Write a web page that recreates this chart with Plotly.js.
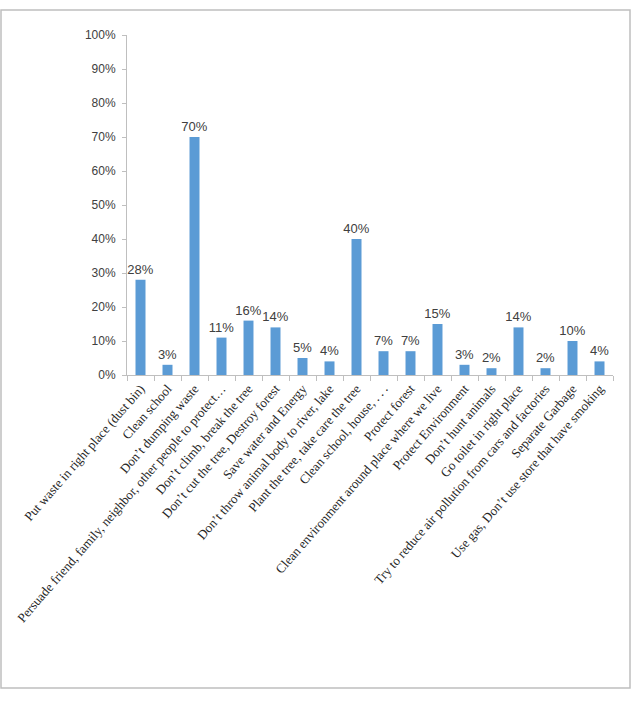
<!DOCTYPE html>
<html>
<head>
<meta charset="utf-8">
<script src="https://cdn.plot.ly/plotly-3.0.1.min.js"></script>
<style>
  html, body { margin: 0; padding: 0; background: #ffffff; }
  #chart { width: 633px; height: 706px; }
</style>
</head>
<body>
<div id="chart"></div>
<script>
const categories = [
  "Put waste in right place (dust bin)",
  "Clean school",
  "Don’t dumping waste",
  "Persuade friend, family, neighbor, other people to protect…",
  "Don’t climb, break the tree",
  "Don’t cut the tree, Destroy forest",
  "Save water and Energy",
  "Don’t throw animal body to river, lake",
  "Plant the tree, take care the tree",
  "Clean school, house, . . .",
  "Protect forest",
  "Clean environment around place where we live",
  "Protect Environment",
  "Don’t hunt animals",
  "Go toilet in right place",
  "Try to reduce air pollution from cars and factories",
  "Separate Garbage",
  "Use gas, Don’t use store that have smoking"
];
const percentValues = [28, 3, 70, 11, 16, 14, 5, 4, 40, 7, 7, 15, 3, 2, 14, 2, 10, 4];
const yTickValues = [0, 0.1, 0.2, 0.3, 0.4, 0.5, 0.6, 0.7, 0.8, 0.9, 1.0];
const yTickLabels = ["0%", "10%", "20%", "30%", "40%", "50%", "60%", "70%", "80%", "90%", "100%"];

const fractions = percentValues.map(v => v / 100);
const labels = percentValues.map(v => v + "%");

const trace = {
  type: "bar",
  x: categories,
  y: fractions,
  text: labels,
  textposition: "outside",
  constraintext: "none",
  textfont: { family: "Liberation Sans, Arial, sans-serif", size: 13, color: "#404040" },
  cliponaxis: false,
  marker: { color: "#5B9BD5" },
  hoverinfo: "x+y"
};

const layout = {
  width: 633,
  height: 706,
  margin: { l: 127, r: 20, t: 35, b: 331 },
  paper_bgcolor: "#ffffff",
  plot_bgcolor: "#ffffff",
  showlegend: false,
  bargap: 0.63,
  xaxis: {
    type: "category",
    tickangle: -49,
    tickson: "boundaries",
    ticks: "outside",
    ticklen: 5,
    tickcolor: "#bfbfbf",
    showline: true,
    linecolor: "#bfbfbf",
    linewidth: 1,
    showgrid: false,
    tickfont: { family: "Liberation Serif, Times New Roman, serif", size: 13, color: "#262626" },
    automargin: false
  },
  yaxis: {
    range: [0, 1.0],
    tickvals: yTickValues,
    ticktext: yTickLabels,
    ticks: "outside",
    ticklen: 4,
    tickcolor: "#bfbfbf",
    showline: true,
    linecolor: "#bfbfbf",
    linewidth: 1,
    showgrid: false,
    zeroline: false,
    ticklabelstandoff: 4,
    tickfont: { family: "Liberation Sans, Arial, sans-serif", size: 12, color: "#404040" },
    automargin: false
  },
  shapes: [{
    type: "rect",
    xref: "paper", yref: "paper",
    x0: (1 - 127) / 486, x1: (630 - 127) / 486,
    y0: (375 - 688) / 340, y1: (375 - 10) / 340,
    line: { color: "#bfbfbf", width: 1.5 },
    fillcolor: "rgba(0,0,0,0)",
    layer: "below"
  }]
};

Plotly.newPlot("chart", [trace], layout, { displayModeBar: false, staticPlot: true });
</script>
</body>
</html>
